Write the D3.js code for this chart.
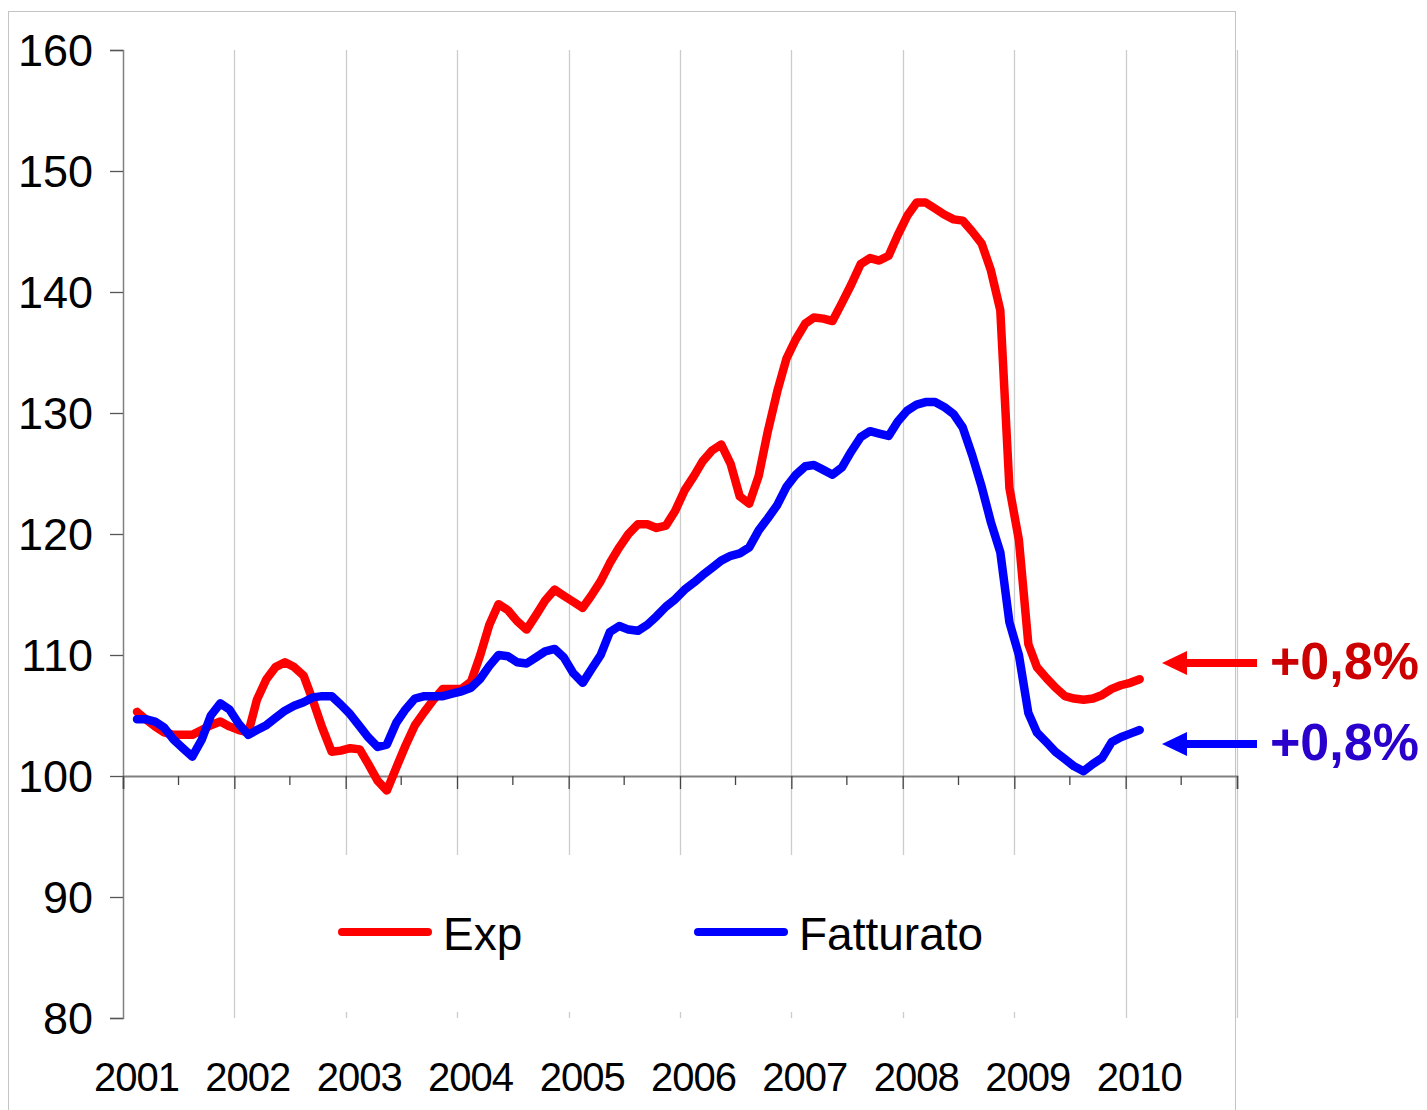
<!DOCTYPE html>
<html>
<head>
<meta charset="utf-8">
<script src="https://cdn.jsdelivr.net/npm/d3@7"></script>
<style>
  body { margin: 0; background: #fff; }
  svg text { font-family: "Liberation Sans", Arial, sans-serif; }
</style>
</head>
<body>
<div id="chart"></div>
<script>
// Monthly index, Feb 2001 - Feb 2010
const expValues = [
  105.3, 104.7, 104.1, 103.6, 103.4, 103.4, 103.4, 103.8, 104.2, 104.5, 104.1,
  103.8, 103.6, 106.3, 108.0, 109.0, 109.4, 109.0, 108.3, 106.2, 104.0, 102.0, 102.1,
  102.3, 102.2, 101.0, 99.6, 98.8, 100.7, 102.5, 104.2, 105.3, 106.3, 107.2, 107.2,
  107.2, 107.8, 109.9, 112.5, 114.2, 113.7, 112.8, 112.1, 113.3, 114.5, 115.4, 114.9,
  114.4, 113.9, 114.9, 116.1, 117.6, 118.9, 120.0, 120.8, 120.8, 120.5, 120.7, 121.9,
  123.6, 124.8, 126.0, 126.9, 127.4, 125.8, 123.1, 122.5, 124.8, 128.5, 131.8, 134.5,
  136.1, 137.4, 137.9, 137.8, 137.6, 139.1, 140.6, 142.3, 142.8, 142.6, 143.0, 144.7,
  146.3, 147.4, 147.4, 146.9, 146.4, 146.0, 145.9, 145.0, 144.0, 141.8, 138.5, 123.8,
  119.5, 110.9, 109.0, 108.1, 107.3, 106.6, 106.4, 106.3, 106.4, 106.7, 107.2, 107.5,
  107.7, 108.0
];
const fattValues = [
  104.7, 104.7, 104.5, 104.0, 103.0, 102.3, 101.6, 103.0, 105.0, 106.0, 105.5,
  104.3, 103.4, 103.8, 104.2, 104.8, 105.4, 105.8, 106.1, 106.5, 106.6, 106.6, 105.9,
  105.1, 104.1, 103.2, 102.4, 102.6, 104.4, 105.5, 106.4, 106.6, 106.6, 106.6, 106.8,
  107.0, 107.3, 108.0, 109.1, 110.0, 109.9, 109.4, 109.3, 109.8, 110.3, 110.5, 109.8,
  108.5, 107.7, 108.8, 110.0, 111.9, 112.4, 112.1, 112.0, 112.5, 113.2, 114.0, 114.6,
  115.4, 116.0, 116.6, 117.2, 117.8, 118.2, 118.4, 118.9, 120.3, 121.3, 122.4, 123.9,
  124.9, 125.6, 125.7, 125.3, 124.9, 125.5, 126.8, 128.0, 128.5, 128.3, 128.1, 129.3,
  130.2, 130.7, 130.9, 130.9, 130.5, 129.9, 128.8, 126.5, 123.9, 121.0, 118.5, 112.7,
  110.0, 105.2, 103.6, 102.8, 102.0, 101.4, 100.8, 100.4, 101.0, 101.5, 102.8, 103.2,
  103.5, 103.8
];
const years = [2001, 2002, 2003, 2004, 2005, 2006, 2007, 2008, 2009, 2010, 2011];
const yTicks = [80, 90, 100, 110, 120, 130, 140, 150, 160];
const seriesNames = ["Exp", "Fatturato"];
const changeLabels = ["+0,8%", "+0,8%"];

const W = 1427, H = 1110;

const svg = d3.select("#chart")
  .append("svg")
  .attr("width", W)
  .attr("height", H);

// outer frame
svg.append("rect")
  .attr("x", 8.5).attr("y", 11.5)
  .attr("width", 1227).attr("height", 1120)
  .attr("fill", "none")
  .attr("stroke", "#c4c4c4")
  .attr("stroke-width", 1);

const x = d3.scaleTime()
  .domain([new Date(2001, 0, 1), new Date(2011, 0, 1)])
  .range([123, 1237]);

const y = d3.scaleLinear()
  .domain([80, 160])
  .range([1018, 50]);

const yearDates = years.map(yr => new Date(yr, 0, 1));
const halfDates = years.slice(0, -1).map(yr => new Date(yr, 6, 2));

// vertical gridlines
svg.append("g")
  .selectAll("line")
  .data(yearDates.slice(1))
  .join("line")
  .attr("x1", d => Math.round(x(d)) + 0.5)
  .attr("x2", d => Math.round(x(d)) + 0.5)
  .attr("y1", y(160))
  .attr("y2", y(80))
  .attr("stroke", "#cccccc")
  .attr("stroke-width", 1.3);

// legend box hides gridlines behind it
svg.append("rect")
  .attr("x", 305).attr("y", 855)
  .attr("width", 725).attr("height", 157)
  .attr("fill", "#fff");

// y axis
const yAxis = svg.append("g")
  .attr("transform", "translate(123,0)")
  .call(d3.axisLeft(y).tickValues(yTicks).tickSize(13).tickPadding(17).tickFormat(d3.format("d")));
yAxis.select(".domain").attr("stroke", "#808080").attr("stroke-width", 1.5);
yAxis.selectAll(".tick line").attr("stroke", "#555").attr("stroke-width", 1.3);
yAxis.selectAll(".tick text")
  .attr("font-size", 45)
  .attr("dy", "0.35em")
  .attr("fill", "#000")
  .style("font-family", "'Liberation Sans', Arial, sans-serif");

// x axis at y = 100
const xAxis = svg.append("g")
  .attr("transform", `translate(0,${y(100)})`)
  .call(d3.axisBottom(x).tickValues(yearDates).tickSize(13).tickPadding(274)
    .tickFormat(d => d.getFullYear() < 2011 ? d3.timeFormat("%Y")(d) : ""));
xAxis.select(".domain").attr("stroke", "#808080").attr("stroke-width", 1.8);
xAxis.selectAll(".tick line").attr("stroke", "#444").attr("stroke-width", 1.3);
xAxis.selectAll(".tick text")
  .attr("font-size", 40)
  .attr("letter-spacing", -1)
  .attr("x", 13)
  .attr("fill", "#000")
  .style("font-family", "'Liberation Sans', Arial, sans-serif");

// half-year minor ticks
svg.append("g")
  .selectAll("line")
  .data(halfDates)
  .join("line")
  .attr("x1", d => x(d)).attr("x2", d => x(d))
  .attr("y1", y(100)).attr("y2", y(100) + 9)
  .attr("stroke", "#444")
  .attr("stroke-width", 1.3);

// lines
const colors = ["#ff0000", "#0000ff"];
const allSeries = [expValues, fattValues];
const line = d3.line()
  .x((d, i) => x(new Date(2001, 1 + i, 16)))
  .y(d => y(d));

svg.append("g")
  .selectAll("path")
  .data(allSeries)
  .join("path")
  .attr("d", d => line(d))
  .attr("fill", "none")
  .attr("stroke", (d, i) => colors[i])
  .attr("stroke-width", 8.5)
  .attr("stroke-linejoin", "round")
  .attr("stroke-linecap", "round");

// legend
const legendX = [342, 698];
const legend = svg.append("g")
  .selectAll("g")
  .data(seriesNames)
  .join("g")
  .attr("transform", (d, i) => `translate(${legendX[i]},932)`);
legend.append("line")
  .attr("x1", 0).attr("x2", 86)
  .attr("stroke", (d, i) => colors[i])
  .attr("stroke-width", 8)
  .attr("stroke-linecap", "round");
legend.append("text")
  .attr("x", 101)
  .attr("y", 18)
  .attr("font-size", 46)
  .attr("fill", "#000")
  .text(d => d);

// arrows + change labels
const arrowY = [663, 744];
const labelColors = ["#cc0000", "#2a00cc"];
const arrows = svg.append("g")
  .selectAll("g")
  .data(changeLabels)
  .join("g")
  .attr("transform", (d, i) => `translate(0,${arrowY[i]})`);
arrows.append("line")
  .attr("x1", 1183).attr("x2", 1257)
  .attr("stroke", (d, i) => colors[i])
  .attr("stroke-width", 8);
arrows.append("path")
  .attr("d", "M1162,0 L1187,-12 L1187,12 Z")
  .attr("fill", (d, i) => colors[i]);
arrows.append("text")
  .attr("x", 1270)
  .attr("y", 16)
  .attr("font-size", 52)
  .attr("font-weight", "bold")
  .attr("fill", (d, i) => labelColors[i])
  .text(d => d);
</script>
</body>
</html>
